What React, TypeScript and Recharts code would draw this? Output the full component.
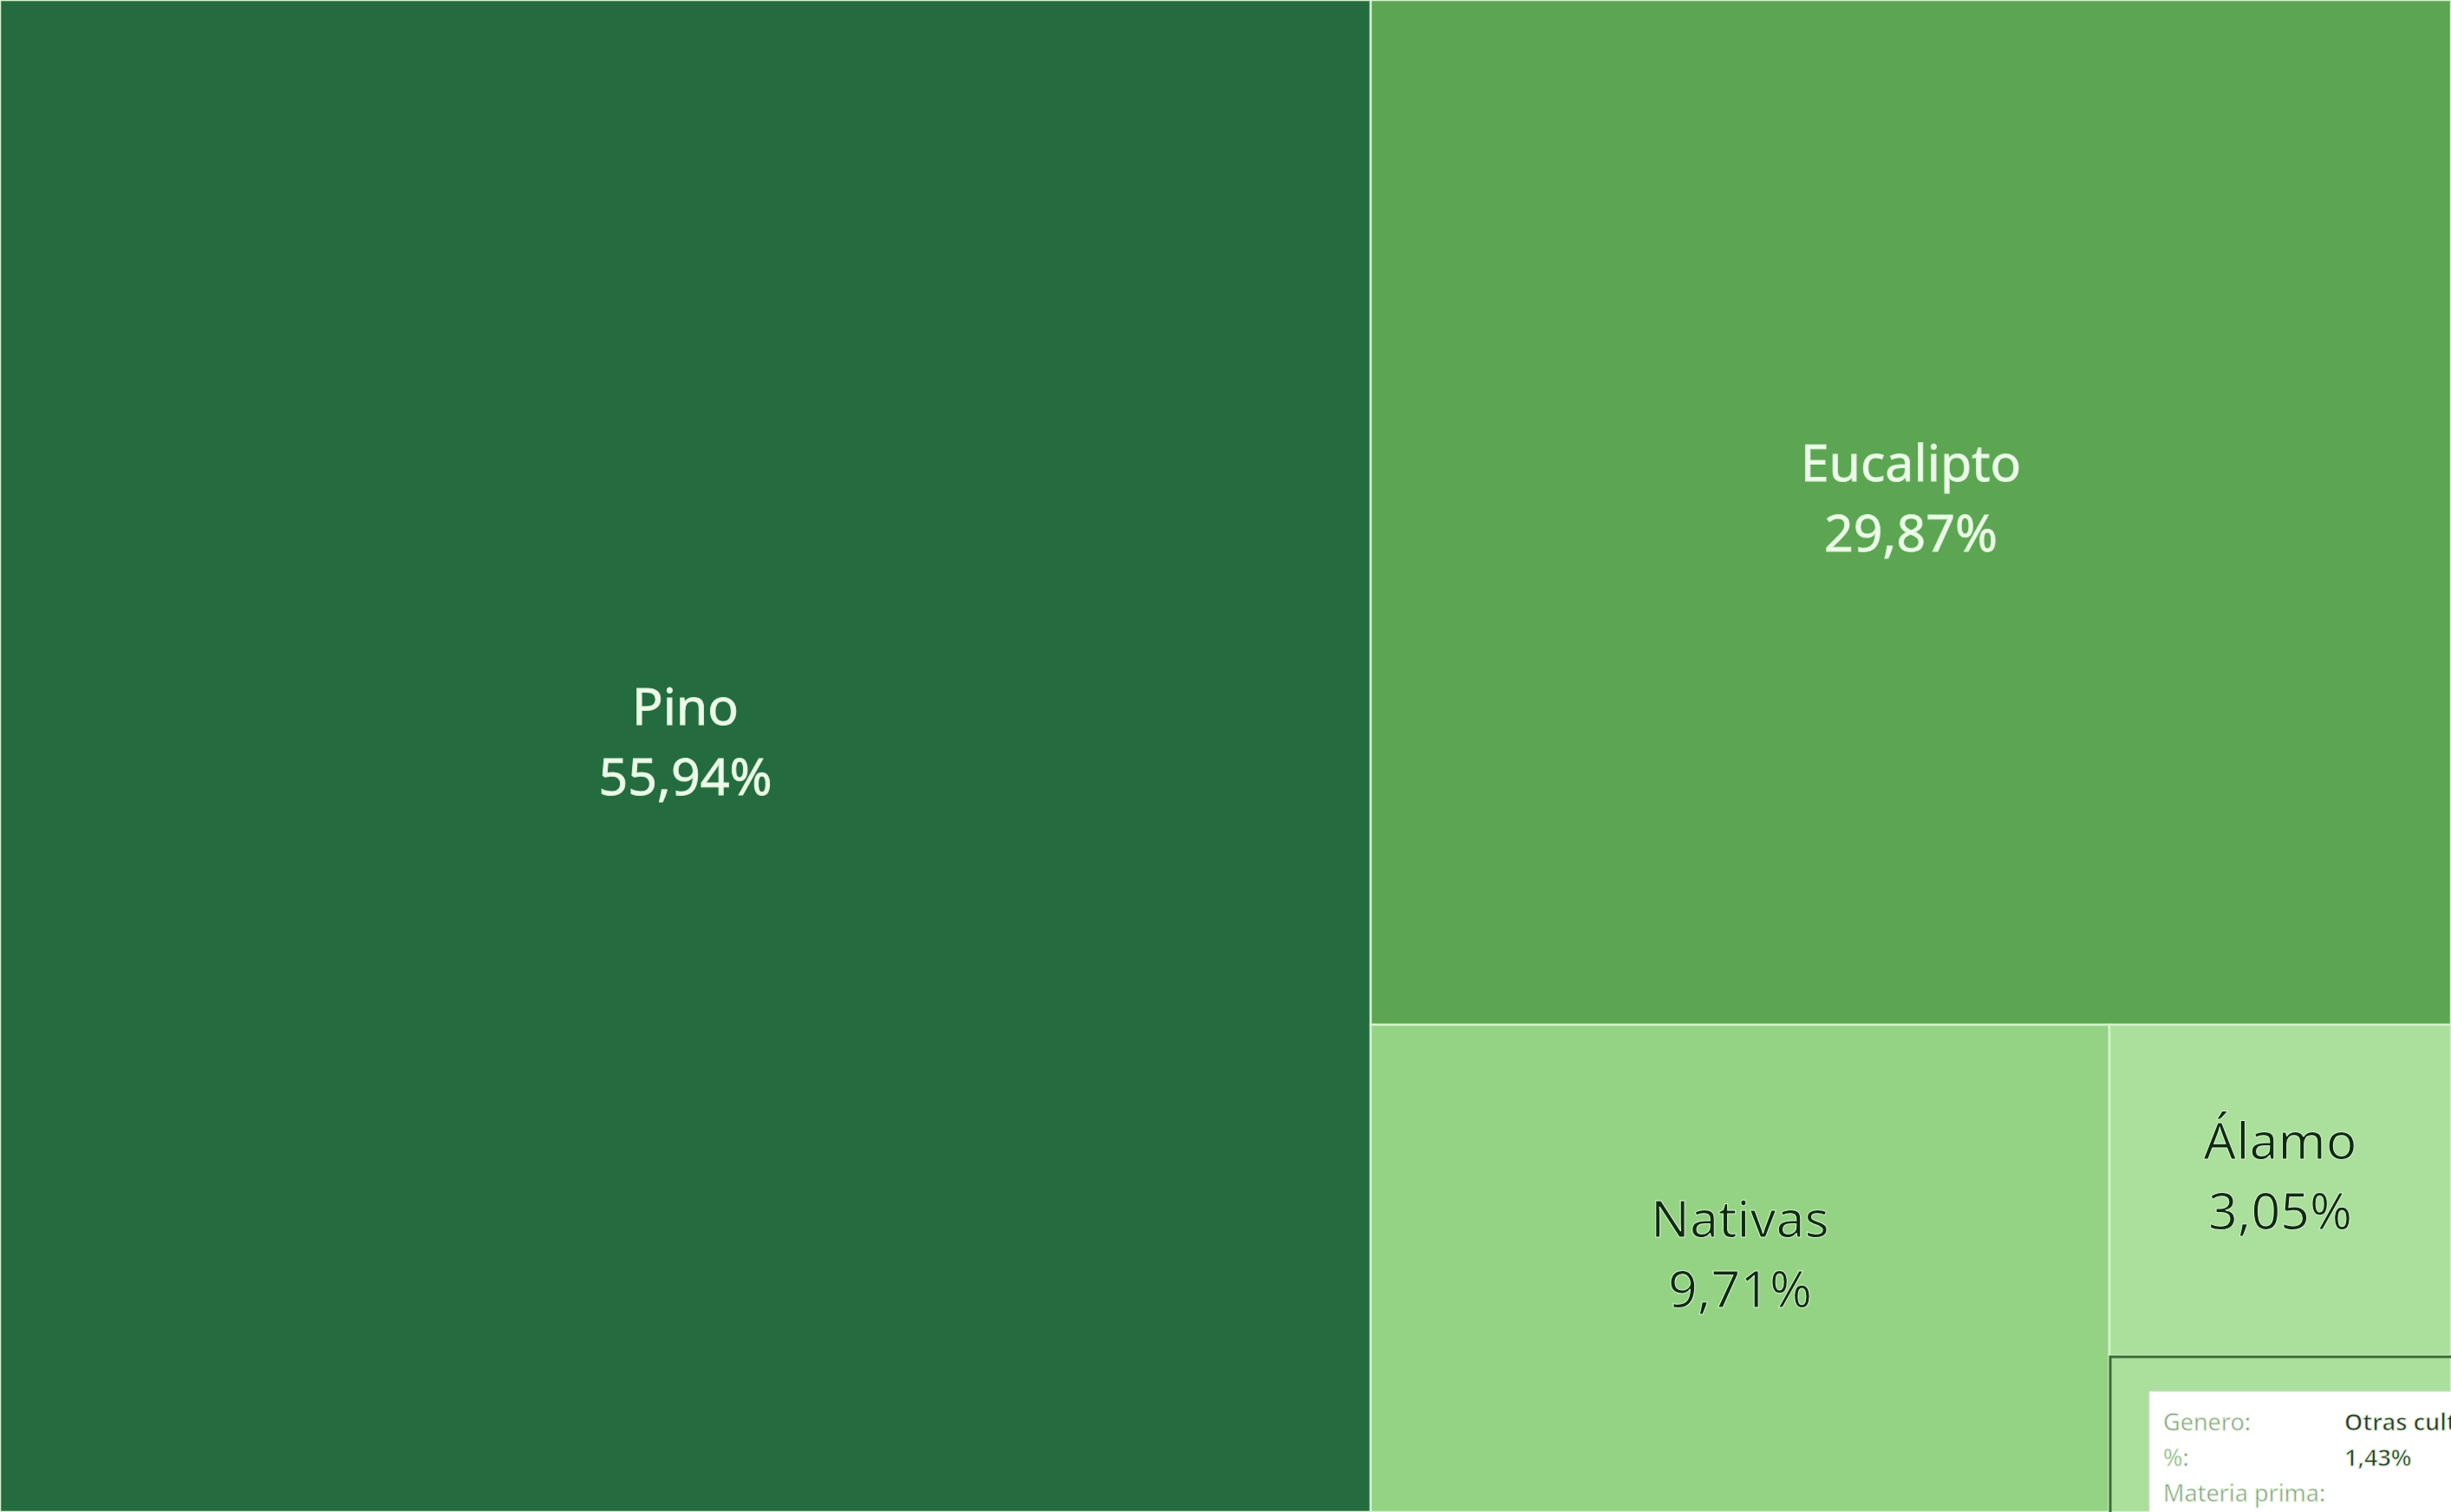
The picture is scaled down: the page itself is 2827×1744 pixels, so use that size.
import React from 'react'
import { Treemap } from 'recharts'

const generos = ['Pino', 'Eucalipto', 'Nativas', 'Álamo', 'Otras cultivadas']
const porcentajes = [55.94, 29.87, 9.71, 3.05, 1.43]
const colores = ['#246b3f', '#5ca553', '#94d384', '#aadf9c', '#aadf9c']
const colorTexto = ['#eefaec', '#eefaec', '#0f2a10', '#0f2a10', '#0f2a10']
const tooltipCampos = ['Genero:', '%:', 'Materia prima:']

const W = 2827
const H = 1744
const FONT = '"Noto Sans", "Open Sans", sans-serif'

const data = generos.map((name, i) => ({
  name,
  value: porcentajes[i],
  fill: colores[i],
  textColor: colorTexto[i],
}))

const fmt = (v: number) => v.toFixed(2).replace('.', ',') + '%'

function Celda(props: any) {
  const { x, y, width, height, depth, name, value, fill, textColor } = props
  if (depth !== 1) return null
  const cx = x + width / 2
  const cy = y + height / 2
  const pequena = height < 250

  return (
    <g>
      <rect x={x} y={y} width={width} height={height} fill={fill} stroke="#d4f2cc" strokeWidth={2.5} />
      {!pequena && (
        <>
          <text x={cx} y={cy - 36} textAnchor="middle" fill={textColor} fontFamily={FONT} fontSize={59}>
            {name}
          </text>
          <text x={cx} y={cy + 45} textAnchor="middle" fill={textColor} fontFamily={FONT} fontSize={59}>
            {fmt(value)}
          </text>
        </>
      )}
      {pequena && (
        <g>
          <rect x={x + 1} y={y + 1} width={width + 10} height={height + 10} fill="none" stroke="#3a6b35" strokeWidth={3} />
          <rect x={x + 46} y={y + 41} width={width} height={height} fill="#ffffff" stroke="#e4e4e4" strokeWidth={1} />
          {tooltipCampos.map((c, i) => (
            <text key={c} x={x + 62} y={y + 86 + i * 41} fill="#8c8c8c" fontFamily={FONT} fontSize={27}>
              {c}
            </text>
          ))}
          <text x={x + 271} y={y + 86} fill="#333333" fontFamily={FONT} fontSize={27} fontWeight={600}>
            {name}
          </text>
          <text x={x + 271} y={y + 127} fill="#333333" fontFamily={FONT} fontSize={27} fontWeight={600}>
            {fmt(value)}
          </text>
        </g>
      )}
    </g>
  )
}

export default function App() {
  return (
    <div style={{ position: 'fixed', left: 0, top: 0, width: W, height: H, background: '#fff' }}>
      <Treemap
        width={W}
        height={H}
        data={data}
        dataKey="value"
        nameKey="name"
        stroke="#d4f2cc"
        content={<Celda />}
        isAnimationActive={false}
      />
    </div>
  )
}
